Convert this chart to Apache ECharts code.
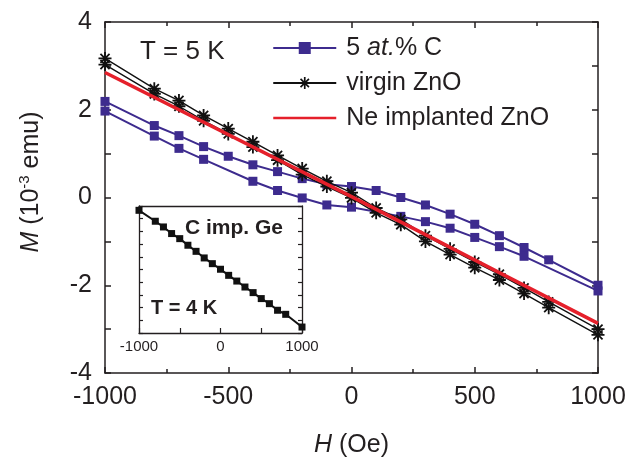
<!DOCTYPE html>
<html><head><meta charset="utf-8">
<script src="https://cdn.jsdelivr.net/npm/echarts@6/dist/echarts.min.js"></script>
<style>html,body{margin:0;padding:0;background:#fff}#c{width:630px;height:468px}</style>
</head><body><div id="c"></div>
<script>
// ---- data ----
// 5 at.% C : hysteresis loop, upper branch (left -> right) and lower branch (right -> left)
const H_C_up = [-1000,-800,-700,-600,-500,-400,-300,-200,-100,0,100,200,300,400,500,600,700,800,1000];
const M_C_up = [2.19,1.64,1.41,1.16,0.94,0.745,0.59,0.43,0.30,0.25,0.16,0.0,-0.17,-0.38,-0.61,-0.87,-1.14,-1.42,-2.0];
const H_C_dn = [1000,700,600,500,400,300,200,0,-100,-200,-300,-400,-600,-700,-800,-1000];
const M_C_dn = [-2.13,-1.34,-1.12,-0.91,-0.70,-0.55,-0.43,-0.22,-0.17,-0.01,0.16,0.37,0.87,1.12,1.40,1.97];
// virgin ZnO
const H_V_up = [-1000,-800,-700,-600,-500,-400,-300,-200,-100,0,100,200,300,400,500,600,700,800,1000];
const M_V_up = [3.17,2.48,2.21,1.87,1.57,1.27,0.96,0.66,0.37,0.11,-0.24,-0.50,-0.87,-1.17,-1.47,-1.75,-2.06,-2.38,-3.0];
const H_V_dn = [1000,800,700,600,500,400,300,200,100,0,-100,-200,-300,-400,-500,-600,-700,-800,-1000];
const M_V_dn = [-3.13,-2.51,-2.19,-1.88,-1.60,-1.30,-1.0,-0.62,-0.35,-0.01,0.25,0.52,0.85,1.15,1.45,1.75,2.08,2.36,3.03];
// Ne implanted ZnO
const H_Ne = [-1000,0,1000];
const M_Ne = [2.85,0.02,-2.87];
// inset: C imp. Ge (arbitrary units)
const H_Ge = [-1000,-800,-700,-600,-500,-400,-300,-200,-100,0,100,200,300,400,500,600,700,800,1000];
const M_Ge = [4.66,3.80,3.35,2.83,2.43,1.91,1.43,0.91,0.46,0.02,-0.46,-0.91,-1.38,-1.82,-2.29,-2.69,-3.21,-3.53,-4.53];
const legendNames = ['5 at.% C','virgin ZnO','Ne implanted ZnO'];

// ---- chart ----
const pairs = (xs, ys) => xs.map((x, i) => [x, ys[i]]);
const FONT = '"Liberation Sans", Arial, sans-serif';
const TXT = '#231f20';
const PURPLE = '#3d2b8e';
const RED = '#e5202b';
const STAR = 'path://M43,0L57,0L57,100L43,100Z M0,43L100,43L100,57L0,57Z M19.9,10.1L89.9,80.1L80.1,89.9L10.1,19.9Z M80.1,10.1L89.9,19.9L19.9,89.9L10.1,80.1Z';
const plain = v => String(v);

const axLine = {show: true, onZero: false, lineStyle: {color: TXT, width: 1.5}};
function mainX(pos, labels) {
  return {
    gridIndex: 0, type: 'value', position: pos, min: -1000, max: 1000, interval: 500,
    axisLine: axLine,
    axisTick: {inside: true, length: 6, lineStyle: {color: TXT, width: 1.5}},
    minorTick: {show: true, splitNumber: 2, length: 4, lineStyle: {color: TXT, width: 1.5}},
    splitLine: {show: false},
    axisLabel: {show: labels, fontSize: 25, fontFamily: FONT, color: TXT, margin: 12, formatter: plain},
    name: labels ? '{i|H} (Oe)' : '', nameLocation: 'middle', nameGap: 60,
    nameTextStyle: {fontSize: 25, fontFamily: FONT, color: TXT,
      rich: {i: {fontStyle: 'italic', fontSize: 25, fontFamily: FONT, color: TXT}}}
  };
}
function mainY(pos, labels) {
  return {
    gridIndex: 0, type: 'value', position: pos, min: -4, max: 4, interval: 2,
    axisLine: axLine,
    axisTick: {inside: true, length: 6, lineStyle: {color: TXT, width: 1.5}},
    minorTick: {show: true, splitNumber: 2, length: 6, lineStyle: {color: TXT, width: 1.5}},
    splitLine: {show: false},
    axisLabel: {show: labels, fontSize: 25, fontFamily: FONT, color: TXT, margin: 13, formatter: plain}
  };
}
function insetX(pos, labels) {
  return {
    gridIndex: 1, type: 'value', position: pos, min: -1000, max: 1000, interval: 1000,
    axisLine: {show: true, onZero: false, lineStyle: {color: TXT, width: 1.3}},
    axisTick: {show: labels, inside: true, length: 5, lineStyle: {color: TXT, width: 1.2}},
    minorTick: {show: labels, splitNumber: 2, length: 5, lineStyle: {color: TXT, width: 1.2}},
    splitLine: {show: false},
    axisLabel: {show: labels, fontSize: 15, fontFamily: FONT, color: TXT, margin: 6, formatter: plain}
  };
}
function insetY(pos) {
  return {
    gridIndex: 1, type: 'value', position: pos, min: -5, max: 5, interval: 1,
    axisLine: {show: true, onZero: false, lineStyle: {color: TXT, width: 1.3}},
    axisTick: {inside: true, length: 4, lineStyle: {color: TXT, width: 1.2}},
    splitLine: {show: false},
    axisLabel: {show: false}
  };
}

const option = {
  backgroundColor: '#fff',
  animation: false,
  grid: [
    {left: 105, top: 22, width: 493, height: 351},
    {left: 139, top: 206, width: 163, height: 127, show: true, backgroundColor: '#fff', borderWidth: 0}
  ],
  xAxis: [mainX('bottom', true), mainX('top', false), insetX('bottom', true), insetX('top', false)],
  yAxis: [mainY('left', true), mainY('right', false), insetY('left'), insetY('right')],
  legend: {
    data: [
      {name: legendNames[0]},
      {name: legendNames[1]},
      {name: legendNames[2], lineStyle: {width: 2.5}, itemStyle: {opacity: 0}}
    ],
    orient: 'vertical', left: 272, top: 35, padding: 0, itemWidth: 63, itemHeight: 15, itemGap: 9,
    selectedMode: false,
    formatter: n => n === legendNames[0] ? '5 {i|at.}% C' : n,
    textStyle: {fontSize: 25, lineHeight: 26, fontFamily: FONT, color: TXT, padding: [0, 0, 0, 5],
      rich: {i: {fontStyle: 'italic', fontSize: 25, lineHeight: 26, fontFamily: FONT, color: TXT}}}
  },
  series: [
    {name: legendNames[0], type: 'line', xAxisIndex: 0, yAxisIndex: 0,
      data: pairs(H_C_up, M_C_up).concat(pairs(H_C_dn, M_C_dn)),
      symbol: 'rect', symbolSize: 9, showAllSymbol: true,
      itemStyle: {color: PURPLE}, lineStyle: {color: PURPLE, width: 2}, z: 2},
    {name: legendNames[1], type: 'line', xAxisIndex: 0, yAxisIndex: 0,
      data: pairs(H_V_up, M_V_up).concat(pairs(H_V_dn, M_V_dn)),
      symbol: STAR, symbolSize: 13, showAllSymbol: true,
      itemStyle: {color: '#111'}, lineStyle: {color: '#111', width: 1.4}, z: 3},
    {name: legendNames[2], type: 'line', xAxisIndex: 0, yAxisIndex: 0,
      data: pairs(H_Ne, M_Ne), symbol: 'none',
      itemStyle: {color: RED}, lineStyle: {color: RED, width: 3.5}, z: 4},
    {name: 'C imp. Ge', type: 'line', xAxisIndex: 2, yAxisIndex: 2,
      data: pairs(H_Ge, M_Ge), symbol: 'rect', symbolSize: 7, showAllSymbol: true,
      itemStyle: {color: '#111'}, lineStyle: {color: '#111', width: 2}, z: 5}
  ],
  graphic: [
    {type: 'text', x: 140, y: 52, z: 10, style: {text: 'T = 5 K', fontSize: 26, fontFamily: FONT, fill: TXT, align: 'left', verticalAlign: 'middle'}},
    {type: 'text', x: 185, y: 228, z: 10, style: {text: 'C imp. Ge', fontSize: 21, fontWeight: 'bold', fontFamily: FONT, fill: TXT, align: 'left', verticalAlign: 'middle'}},
    {type: 'text', x: 151, y: 308, z: 10, style: {text: 'T = 4 K', fontSize: 20, fontWeight: 'bold', fontFamily: FONT, fill: TXT, align: 'left', verticalAlign: 'middle'}},
    {type: 'text', x: 31, y: 182, rotation: Math.PI / 2, z: 10,
      style: {text: '{i|M} (10{s|-3} emu)', fontSize: 25, fontFamily: FONT, fill: TXT, align: 'center', verticalAlign: 'middle',
        rich: {
          i: {fontStyle: 'italic', fontSize: 25, fontFamily: FONT, fill: TXT, lineHeight: 28},
          s: {fontSize: 15, fontFamily: FONT, fill: TXT, verticalAlign: 'top', lineHeight: 15}
        }}}
  ]
};
const chart = echarts.init(document.getElementById('c'));
chart.setOption(option);
</script>
</body></html>
